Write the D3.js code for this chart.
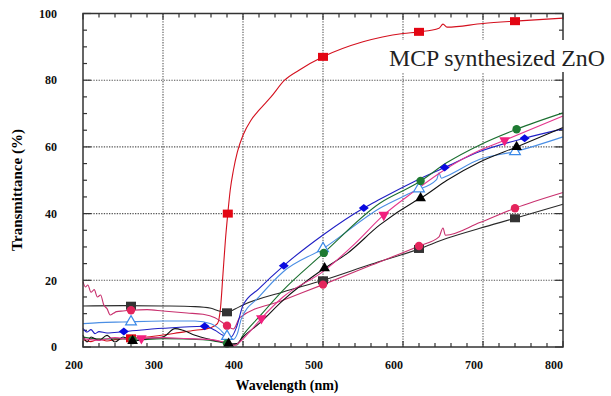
<!DOCTYPE html>
<meta charset="utf-8">
<script src="https://d3js.org/d3.v7.min.js"></script>
<style>
  body { margin: 0; background: #fff; }
  svg { display: block; }
</style>
<body>
<svg id="chart" width="611" height="396"></svg>
<script>
// transmittance curves: [wavelength (nm), T (%)]
var redPts = [[200,2.2],[210,1.6],[220,2.4],[230,1.8],[240,2.2],[260,2.6],[280,3.0],[300,3.6],[320,4.3],[340,5.0],[360,5.8],[368,7],[372,12],[375,22],[378,32],[381,40],[384,47],[388,53],[393,58.5],[400,63.5],[410,68],[420,71],[435,75],[452,80],[470,83],[500,87],[550,91.5],[600,94],[620,94.5],[645,95.6],[650,96.8],[655,95.9],[700,97],[740,97.7],[800,98.6]];
var blackSqPts = [[200,12.3],[250,12.4],[300,12.3],[340,12.1],[360,11.6],[370,10.8],[380,10.4],[390,11.4],[400,12.6],[450,16.5],[500,20],[560,24.8],[620,29.4],[655,32.6],[696,35.6],[740,38.6],[800,42.8]];
var pinkCirPts = [[200,19.6],[203,18],[206,18.6],[210,16.4],[214,17.2],[218,15],[222,15.6],[226,12.6],[230,11.5],[234,9.6],[238,10.1],[242,10.6],[250,10.8],[260,11],[280,11.2],[300,10.8],[330,10.2],[350,9.8],[365,8.8],[380,6.4],[388,5.4],[396,8.8],[450,14],[500,18.7],[560,24.5],[620,30.3],[645,33],[650,35.7],[653,33.5],[696,37.3],[740,41.6],[800,46.3]];
var lightBluePts = [[200,7.0],[220,7.3],[250,7.5],[300,7.8],[340,7.8],[360,7.0],[370,5.5],[380,3.2],[388,2.3],[393,4],[398,8.5],[420,15],[450,22.5],[500,29.5],[571,41.6],[613,46.6],[642,50.2],[645,52.2],[648,50.6],[655,51.3],[696,56.3],[740,58.6],[800,63]];
var bluePts = [[200,5.6],[205,4.5],[210,5.2],[215,4.0],[220,4.6],[230,4.2],[250,4.6],[300,5.6],[352,6.2],[365,5],[375,3.5],[385,3],[392,6],[400,12.5],[420,17.5],[451,24.4],[500,33.6],[551,41.7],[571,44.3],[613,49.5],[652,53.8],[696,58.6],[752,62.6],[800,65.4]];
var greenPts = [[200,3],[220,2.4],[250,2.5],[262,2.1],[300,2.5],[350,2.2],[370,1.5],[385,0.8],[392,0.6],[400,3.5],[420,9],[450,17],[500,28],[571,43.1],[613,48.5],[622,49.8],[655,55.3],[696,60.6],[742,65.3],[800,70.2]];
var blackTriPts = [[200,3.5],[205,1.5],[210,3],[220,2],[230,3.5],[240,1.5],[250,3],[262,1.8],[280,2.5],[300,3],[315,5.5],[325,5],[340,3.5],[360,2.2],[375,1.4],[384,0.9],[392,1.0],[400,3],[420,7],[450,14],[500,23.3],[530,28],[571,36.6],[613,43.4],[622,44.6],[655,50],[696,55.5],[742,60],[800,65.8]];
var pinkTriPts = [[200,2.5],[220,2],[240,2.8],[260,2.3],[273,2.6],[300,2.8],[330,2.5],[360,2.2],[380,1.2],[390,0.5],[396,1.5],[410,5],[423,8.6],[450,15],[500,22.6],[540,31],[576,39.6],[613,46.5],[655,53.6],[696,59],[727,62],[800,69.3]];

// wavelengths where the symbols sit
var redMarks = [260,381,500,620,740];
var blackSqMarks = [260,380,500,620,740];
var pinkCirMarks = [260,380,500,620,740];
var lightBlueMarks = [260,380,500,620,740];
var blueMarks = [251,352,451,551,652,752];
var greenMarks = [262,380,501,622,742];
var blackTriMarks = [262,382,502,622,742];
var pinkTriMarks = [273,423,576,727];

var xTicks = [200,300,400,500,600,700,800];
var yTicks = [0,20,40,60,80,100];

var svg = d3.select("#chart");
var x = d3.scaleLinear().domain([200,800]).range([83,563]);
var y = d3.scaleLinear().domain([0,100]).range([347,13.5]);

// grid
var grid = svg.append("g").attr("stroke","#555").attr("stroke-width",1.1).attr("stroke-dasharray","1.3,1.3");
grid.selectAll(".gx").data(xTicks.slice(1,-1)).enter().append("line")
  .attr("x1",d=>x(d)).attr("x2",d=>x(d)).attr("y1",y(100)).attr("y2",y(0));
grid.selectAll(".gy").data(yTicks.slice(1,-1)).enter().append("line")
  .attr("y1",d=>y(d)).attr("y2",d=>y(d)).attr("x1",x(200)).attr("x2",x(800));

// inward ticks on all four sides
var tk = svg.append("g").attr("stroke","#333").attr("stroke-width",1.2);
d3.range(200,801,20).forEach(function(w){
  var len = w % 100 == 0 ? 6 : 4;
  tk.append("line").attr("x1",x(w)).attr("x2",x(w)).attr("y1",y(0)).attr("y2",y(0)-len);
  tk.append("line").attr("x1",x(w)).attr("x2",x(w)).attr("y1",y(100)).attr("y2",y(100)+len);
});
d3.range(0,101,5).forEach(function(v){
  var len = v % 20 == 0 ? 8 : 4;
  tk.append("line").attr("y1",y(v)).attr("y2",y(v)).attr("x1",x(200)).attr("x2",x(200)+len);
  tk.append("line").attr("y1",y(v)).attr("y2",y(v)).attr("x1",x(800)).attr("x2",x(800)-len);
});

function at(pts, w) {
  for (var i = 1; i < pts.length; i++) {
    if (w <= pts[i][0]) {
      var a = pts[i-1], b = pts[i];
      return a[1] + (b[1]-a[1]) * (w-a[0]) / (b[0]-a[0]);
    }
  }
  return pts[pts.length-1][1];
}

var series = [
  {pts: redPts, line: "#d4101e", marks: redMarks, sym: "sq", fill: "#e30613"},
  {pts: blackSqPts, line: "#2a2a2a", marks: blackSqMarks, sym: "sq", fill: "#333"},
  {pts: pinkCirPts, line: "#c8306e", marks: pinkCirMarks, sym: "circle", fill: "#e4245c"},
  {pts: lightBluePts, line: "#4a8ee4", marks: lightBlueMarks, sym: "tri-open", fill: "#3c8ae8"},
  {pts: bluePts, line: "#1f1fc4", marks: blueMarks, sym: "diamond", fill: "#0a0ae0"},
  {pts: greenPts, line: "#1b6f30", marks: greenMarks, sym: "circle", fill: "#1e7a32"},
  {pts: blackTriPts, line: "#111", marks: blackTriMarks, sym: "tri", fill: "#000"},
  {pts: pinkTriPts, line: "#e4388e", marks: pinkTriMarks, sym: "tri-down", fill: "#f2207e"}
];

var line = d3.line().x(d=>x(d[0])).y(d=>y(d[1])).curve(d3.curveMonotoneX);
var plot = svg.append("g");
series.forEach(function(s){
  plot.append("path").attr("d", line(s.pts)).attr("fill","none")
    .attr("stroke", s.line).attr("stroke-width", 1.1);
});
series.forEach(function(s){
  s.marks.forEach(function(w){
    var px = x(w), py = y(at(s.pts, w));
    if (s.sym == "sq") {
      plot.append("rect").attr("x",px-5).attr("y",py-4).attr("width",10).attr("height",8).attr("fill",s.fill);
    } else if (s.sym == "circle") {
      plot.append("circle").attr("cx",px).attr("cy",py).attr("r",4.2).attr("fill",s.fill);
    } else if (s.sym == "diamond") {
      plot.append("path").attr("d","M"+(px-5)+","+py+"L"+px+","+(py-4)+"L"+(px+5)+","+py+"L"+px+","+(py+4)+"Z").attr("fill",s.fill);
    } else {
      var down = s.sym == "tri-down";
      var t = d3.symbol().type(d3.symbolTriangle).size(50)();
      var p = plot.append("path").attr("d",t)
        .attr("transform","translate("+px+","+py+")"+(down?" rotate(180)":""));
      if (s.sym == "tri-open") p.attr("fill","#fff").attr("stroke",s.fill).attr("stroke-width",1.2);
      else p.attr("fill",s.fill);
    }
  });
});

// frame
svg.append("rect").attr("x",x(200)).attr("y",y(100)).attr("width",x(800)-x(200)).attr("height",y(0)-y(100))
  .attr("fill","none").attr("stroke","#333").attr("stroke-width",1.5);

// tick labels
var lab = svg.append("g").attr("font-family","Liberation Serif, serif").attr("font-weight","bold").attr("font-size",12).attr("fill","#111");
lab.selectAll(".xl").data(xTicks).enter().append("text")
  .attr("x",d=>x(d)).attr("y",369).attr("text-anchor","end").text(d=>d);
lab.selectAll(".yl").data(yTicks).enter().append("text")
  .attr("x",57).attr("y",d=>y(d)).attr("dy","0.35em").attr("text-anchor","end").text(d=>d);

// axis titles
svg.append("text").attr("x",287).attr("y",390).attr("text-anchor","middle")
  .attr("font-family","Liberation Serif, serif").attr("font-weight","bold").attr("font-size",14)
  .text("Wavelength (nm)");
svg.append("text").attr("transform","translate(22,190) rotate(-90)").attr("text-anchor","middle")
  .attr("font-family","Liberation Serif, serif").attr("font-weight","bold").attr("font-size",15)
  .text("Transmittance (%)");

// caption box
svg.append("rect").attr("x",386).attr("y",40).attr("width",225).attr("height",32).attr("fill","#fff");
svg.append("text").attr("x",389).attr("y",65.5)
  .attr("font-family","Liberation Serif, serif").attr("font-size",23.8).attr("fill","#222")
  .text("MCP synthesized ZnO");
</script>
</body>
